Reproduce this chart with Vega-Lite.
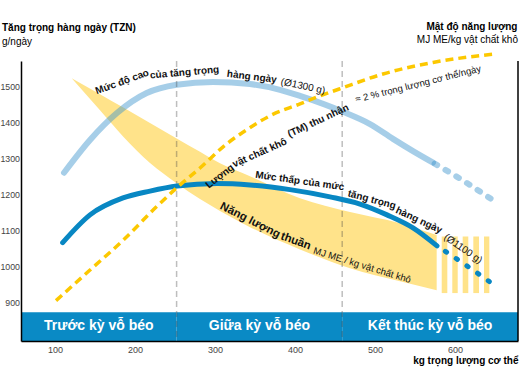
{
  "$schema": "https://vega.github.io/schema/vega-lite/v6.json",
  "width": 497,
  "height": 280,
  "autosize": {"type": "none"},
  "padding": {"left": 21, "top": 61, "right": 2, "bottom": 39},
  "background": "white",
  "config": {
    "view": {"stroke": null},
    "font": "Liberation Sans",
    "text": {"font": "Liberation Sans", "color": "#111"}
  },
  "datasets": {
    "phases": [
      {"phase": "Trước kỳ vỗ béo", "from": 57.5, "to": 252},
      {"phase": "Giữa kỳ vỗ béo", "from": 252, "to": 459},
      {"phase": "Kết thúc kỳ vỗ béo", "from": 459, "to": 678.75}
    ],
    "boundaries": [{"kg": 252}, {"kg": 459}],
    "energy": [
      {"kg": 120.9, "upper": 1523, "lower": 1523},
      {"kg": 156.25, "upper": 1479, "lower": 1434},
      {"kg": 185.4, "upper": 1442, "lower": 1361},
      {"kg": 218.75, "upper": 1399, "lower": 1288},
      {"kg": 252.1, "upper": 1356, "lower": 1232},
      {"kg": 281.25, "upper": 1319, "lower": 1188},
      {"kg": 306.25, "upper": 1287, "lower": 1155},
      {"kg": 343.75, "upper": 1251, "lower": 1110},
      {"kg": 406.25, "upper": 1190, "lower": 1048},
      {"kg": 468.75, "upper": 1152, "lower": 996},
      {"kg": 531.25, "upper": 1121, "lower": 960},
      {"kg": 577.1, "upper": 1088, "lower": 935}
    ],
    "energy_projected": [
      {"from": 583.4, "to": 590.4},
      {"from": 596.6, "to": 603.4},
      {"from": 609.6, "to": 616.6},
      {"from": 622.9, "to": 630},
      {"from": 636.25, "to": 642.9}
    ],
    "adg": [
      {"series": "high", "part": "solid", "kg": 111.25, "gain": 1261},
      {"series": "high", "part": "solid", "kg": 143.75, "gain": 1352},
      {"series": "high", "part": "solid", "kg": 177.1, "gain": 1426},
      {"series": "high", "part": "solid", "kg": 214.6, "gain": 1482},
      {"series": "high", "part": "solid", "kg": 252.1, "gain": 1505},
      {"series": "high", "part": "solid", "kg": 297.5, "gain": 1513},
      {"series": "high", "part": "solid", "kg": 343.75, "gain": 1507},
      {"series": "high", "part": "solid", "kg": 381.25, "gain": 1491},
      {"series": "high", "part": "solid", "kg": 406.25, "gain": 1474},
      {"series": "high", "part": "solid", "kg": 460, "gain": 1430},
      {"series": "high", "part": "solid", "kg": 493.75, "gain": 1396},
      {"series": "high", "part": "solid", "kg": 522.5, "gain": 1355},
      {"series": "high", "part": "solid", "kg": 547.5, "gain": 1321},
      {"series": "high", "part": "solid", "kg": 572.5, "gain": 1289},
      {"series": "high", "part": "projected", "kg": 572.5, "gain": 1289},
      {"series": "high", "part": "projected", "kg": 608.75, "gain": 1241},
      {"series": "high", "part": "projected", "kg": 644.6, "gain": 1189},
      {"series": "low", "part": "solid", "kg": 109.6, "gain": 1067},
      {"series": "low", "part": "solid", "kg": 143.75, "gain": 1144},
      {"series": "low", "part": "solid", "kg": 185, "gain": 1191},
      {"series": "low", "part": "solid", "kg": 218.75, "gain": 1210},
      {"series": "low", "part": "solid", "kg": 252.5, "gain": 1224},
      {"series": "low", "part": "solid", "kg": 302.5, "gain": 1231},
      {"series": "low", "part": "solid", "kg": 343.75, "gain": 1227},
      {"series": "low", "part": "solid", "kg": 393.75, "gain": 1214},
      {"series": "low", "part": "solid", "kg": 443.75, "gain": 1194},
      {"series": "low", "part": "solid", "kg": 481.25, "gain": 1174},
      {"series": "low", "part": "solid", "kg": 515, "gain": 1144},
      {"series": "low", "part": "solid", "kg": 547.5, "gain": 1108},
      {"series": "low", "part": "solid", "kg": 577.5, "gain": 1058},
      {"series": "low", "part": "projected", "kg": 577.5, "gain": 1058},
      {"series": "low", "part": "projected", "kg": 610, "gain": 1010},
      {"series": "low", "part": "projected", "kg": 642.9, "gain": 959}
    ],
    "dm_intake": [
      {"kg": 101.25, "value": 906},
      {"kg": 143.75, "value": 991},
      {"kg": 185.4, "value": 1074},
      {"kg": 227.1, "value": 1167},
      {"kg": 252.1, "value": 1219},
      {"kg": 281.25, "value": 1274},
      {"kg": 314.6, "value": 1341},
      {"kg": 339.6, "value": 1380},
      {"kg": 368.75, "value": 1419},
      {"kg": 406.25, "value": 1452},
      {"kg": 431.25, "value": 1474},
      {"kg": 460, "value": 1497},
      {"kg": 510, "value": 1535},
      {"kg": 572.5, "value": 1567},
      {"kg": 647.5, "value": 1590}
    ]
  },
  "layer": [
    {
      "data": {"name": "phases"},
      "mark": {"type": "rect", "color": "#0a8ac5"},
      "encoding": {
        "x": {"field": "from", "type": "quantitative", "scale": {"domain": [57.5, 678.75], "nice": false, "zero": false},
          "axis": {"values": [100, 200, 300, 400, 500, 600], "format": "d", "ticks": false, "grid": false, "domain": true, "domainColor": "#000", "domainWidth": 1.5, "zindex": 2,
            "labelFont": "Liberation Sans", "labelFontSize": 9, "labelColor": "#444", "labelPadding": 4,
            "title": "kg trọng lượng cơ thể", "titleFont": "Liberation Sans", "titleFontSize": 10, "titleFontWeight": "bold",
            "titleColor": "#000", "titleAnchor": "end", "titlePadding": 1}},
        "x2": {"field": "to"},
        "y": {"datum": 794, "type": "quantitative", "scale": {"domain": [794, 1571], "nice": false, "zero": false},
          "axis": {"values": [900, 1000, 1100, 1200, 1300, 1400, 1500], "format": "d", "ticks": false, "grid": false, "domain": true, "domainColor": "#000", "domainWidth": 1.5, "zindex": 2,
            "labelFont": "Liberation Sans", "labelFontSize": 8.8, "labelColor": "#444", "labelPadding": 1.5, "title": null}},
        "y2": {"datum": 874}
      }
    },
    {
      "data": {"name": "phases"},
      "transform": [
        {"fold": ["from", "to"], "as": ["edge", "kg"]},
        {"aggregate": [{"op": "mean", "field": "kg", "as": "kg"}], "groupby": ["phase"]}
      ],
      "mark": {"type": "text", "color": "white", "fontWeight": "bold", "fontSize": 14, "align": "center", "baseline": "middle"},
      "encoding": {
        "x": {"field": "kg", "type": "quantitative", "scale": {"domain": [57.5, 678.75], "nice": false, "zero": false}},
        "y": {"datum": 835, "type": "quantitative", "scale": {"domain": [794, 1571], "nice": false, "zero": false}},
        "text": {"field": "phase"}
      }
    },
    {
      "data": {"name": "energy"},
      "mark": {"type": "area", "color": "#ffe38a", "interpolate": "monotone"},
      "encoding": {
        "x": {"field": "kg", "type": "quantitative", "scale": {"domain": [57.5, 678.75], "nice": false, "zero": false}},
        "y": {"field": "upper", "type": "quantitative", "scale": {"domain": [794, 1571], "nice": false, "zero": false}},
        "y2": {"field": "lower"}
      }
    },
    {
      "data": {"name": "energy_projected"},
      "mark": {"type": "rect", "color": "#ffe38a"},
      "encoding": {
        "x": {"field": "from", "type": "quantitative", "scale": {"domain": [57.5, 678.75], "nice": false, "zero": false}},
        "x2": {"field": "to"},
        "y": {"datum": 1084, "type": "quantitative", "scale": {"domain": [794, 1571], "nice": false, "zero": false}},
        "y2": {"datum": 927}
      }
    },
    {
      "data": {"name": "adg"},
      "transform": [{"filter": "datum.series === 'high' && datum.part === 'solid'"}],
      "mark": {"type": "line", "color": "#3a93cb", "opacity": 0.45, "strokeWidth": 6, "strokeCap": "round", "interpolate": "monotone"},
      "encoding": {
        "x": {"field": "kg", "type": "quantitative", "scale": {"domain": [57.5, 678.75], "nice": false, "zero": false}},
        "y": {"field": "gain", "type": "quantitative", "scale": {"domain": [794, 1571], "nice": false, "zero": false}}
      }
    },
    {
      "data": {"name": "adg"},
      "transform": [{"filter": "datum.series === 'high' && datum.part === 'projected'"}],
      "mark": {"type": "line", "color": "#3a93cb", "opacity": 0.45, "strokeWidth": 6, "strokeCap": "round", "strokeDash": [3, 9.6], "strokeDashOffset": 10.7, "interpolate": "monotone"},
      "encoding": {
        "x": {"field": "kg", "type": "quantitative", "scale": {"domain": [57.5, 678.75], "nice": false, "zero": false}},
        "y": {"field": "gain", "type": "quantitative", "scale": {"domain": [794, 1571], "nice": false, "zero": false}}
      }
    },
    {
      "data": {"name": "boundaries"},
      "mark": {"type": "rule", "color": "#444", "opacity": 0.35, "strokeWidth": 1.5, "strokeDash": [6, 4]},
      "encoding": {
        "x": {"field": "kg", "type": "quantitative", "scale": {"domain": [57.5, 678.75], "nice": false, "zero": false}}
      }
    },
    {
      "data": {"values": [{}]},
      "mark": {"type": "rule", "color": "#000", "strokeWidth": 1.5},
      "encoding": {
        "x": {"datum": 678.75, "type": "quantitative", "scale": {"domain": [57.5, 678.75], "nice": false, "zero": false}}
      }
    },
    {
      "data": {"name": "adg"},
      "transform": [{"filter": "datum.series === 'low' && datum.part === 'solid'"}],
      "mark": {"type": "line", "color": "#0887c3", "strokeWidth": 5, "strokeCap": "round", "interpolate": "monotone"},
      "encoding": {
        "x": {"field": "kg", "type": "quantitative", "scale": {"domain": [57.5, 678.75], "nice": false, "zero": false}},
        "y": {"field": "gain", "type": "quantitative", "scale": {"domain": [794, 1571], "nice": false, "zero": false}}
      }
    },
    {
      "data": {"name": "adg"},
      "transform": [{"filter": "datum.series === 'low' && datum.part === 'projected'"}],
      "mark": {"type": "line", "color": "#0887c3", "strokeWidth": 5, "strokeCap": "round", "strokeDash": [1.5, 11.5], "strokeDashOffset": 3, "interpolate": "monotone"},
      "encoding": {
        "x": {"field": "kg", "type": "quantitative", "scale": {"domain": [57.5, 678.75], "nice": false, "zero": false}},
        "y": {"field": "gain", "type": "quantitative", "scale": {"domain": [794, 1571], "nice": false, "zero": false}}
      }
    },
    {
      "data": {"name": "dm_intake"},
      "mark": {"type": "line", "color": "#fcc800", "strokeWidth": 3.5, "strokeDash": [8, 5], "interpolate": "monotone"},
      "encoding": {
        "x": {"field": "kg", "type": "quantitative", "scale": {"domain": [57.5, 678.75], "nice": false, "zero": false}},
        "y": {"field": "value", "type": "quantitative", "scale": {"domain": [794, 1571], "nice": false, "zero": false}}
      }
    },
    {"data": {"values": [{}]}, "mark": {"type": "text", "angle": -20, "fontWeight": "bold", "fontSize": 10},
      "encoding": {"x": {"datum": 184, "type": "quantitative", "scale": {"domain": [57.5, 678.75], "nice": false, "zero": false}},
        "y": {"datum": 1513, "type": "quantitative", "scale": {"domain": [794, 1571], "nice": false, "zero": false}},
        "text": {"value": "Mức độ cao"}}},
    {"data": {"values": [{}]}, "mark": {"type": "text", "angle": -5, "fontWeight": "bold", "fontSize": 10},
      "encoding": {"x": {"datum": 262, "type": "quantitative", "scale": {"domain": [57.5, 678.75], "nice": false, "zero": false}},
        "y": {"datum": 1539, "type": "quantitative", "scale": {"domain": [794, 1571], "nice": false, "zero": false}},
        "text": {"value": "của tăng trọng"}}},
    {"data": {"values": [{}]}, "mark": {"type": "text", "angle": 7, "fontWeight": "bold", "fontSize": 10},
      "encoding": {"x": {"datum": 346, "type": "quantitative", "scale": {"domain": [57.5, 678.75], "nice": false, "zero": false}},
        "y": {"datum": 1527, "type": "quantitative", "scale": {"domain": [794, 1571], "nice": false, "zero": false}},
        "text": {"value": "hàng ngày"}}},
    {"data": {"values": [{}]}, "mark": {"type": "text", "angle": 12, "fontSize": 10},
      "encoding": {"x": {"datum": 410, "type": "quantitative", "scale": {"domain": [57.5, 678.75], "nice": false, "zero": false}},
        "y": {"datum": 1501, "type": "quantitative", "scale": {"domain": [794, 1571], "nice": false, "zero": false}},
        "text": {"value": "(Ø1300 g)"}}},
    {"data": {"values": [{}]}, "mark": {"type": "text", "angle": -38, "fontWeight": "bold", "fontSize": 10},
      "encoding": {"x": {"datum": 306, "type": "quantitative", "scale": {"domain": [57.5, 678.75], "nice": false, "zero": false}},
        "y": {"datum": 1251, "type": "quantitative", "scale": {"domain": [794, 1571], "nice": false, "zero": false}},
        "text": {"value": "Lượng"}}},
    {"data": {"values": [{}]}, "mark": {"type": "text", "angle": -24, "fontWeight": "bold", "fontSize": 10},
      "encoding": {"x": {"datum": 356, "type": "quantitative", "scale": {"domain": [57.5, 678.75], "nice": false, "zero": false}},
        "y": {"datum": 1316, "type": "quantitative", "scale": {"domain": [794, 1571], "nice": false, "zero": false}},
        "text": {"value": "vật chất khô"}}},
    {"data": {"values": [{}]}, "mark": {"type": "text", "angle": -25, "fontWeight": "bold", "fontSize": 10},
      "encoding": {"x": {"datum": 429, "type": "quantitative", "scale": {"domain": [57.5, 678.75], "nice": false, "zero": false}},
        "y": {"datum": 1405, "type": "quantitative", "scale": {"domain": [794, 1571], "nice": false, "zero": false}},
        "text": {"value": "(TM) thu nhận"}}},
    {"data": {"values": [{}]}, "mark": {"type": "text", "angle": -14, "fontSize": 9.5},
      "encoding": {"x": {"datum": 554, "type": "quantitative", "scale": {"domain": [57.5, 678.75], "nice": false, "zero": false}},
        "y": {"datum": 1507, "type": "quantitative", "scale": {"domain": [794, 1571], "nice": false, "zero": false}},
        "text": {"value": "≈ 2 % trọng lượng cơ thể/ngày"}}},
    {"data": {"values": [{}]}, "mark": {"type": "text", "angle": 8, "fontWeight": "bold", "fontSize": 10},
      "encoding": {"x": {"datum": 406, "type": "quantitative", "scale": {"domain": [57.5, 678.75], "nice": false, "zero": false}},
        "y": {"datum": 1238, "type": "quantitative", "scale": {"domain": [794, 1571], "nice": false, "zero": false}},
        "text": {"value": "Mức thấp của mức"}}},
    {"data": {"values": [{}]}, "mark": {"type": "text", "angle": 15, "fontWeight": "bold", "fontSize": 10},
      "encoding": {"x": {"datum": 496, "type": "quantitative", "scale": {"domain": [57.5, 678.75], "nice": false, "zero": false}},
        "y": {"datum": 1186, "type": "quantitative", "scale": {"domain": [794, 1571], "nice": false, "zero": false}},
        "text": {"value": "tăng trọng"}}},
    {"data": {"values": [{}]}, "mark": {"type": "text", "angle": 25, "fontWeight": "bold", "fontSize": 10},
      "encoding": {"x": {"datum": 555, "type": "quantitative", "scale": {"domain": [57.5, 678.75], "nice": false, "zero": false}},
        "y": {"datum": 1129, "type": "quantitative", "scale": {"domain": [794, 1571], "nice": false, "zero": false}},
        "text": {"value": "hàng ngày"}}},
    {"data": {"values": [{}]}, "mark": {"type": "text", "angle": 35, "fontSize": 10},
      "encoding": {"x": {"datum": 610, "type": "quantitative", "scale": {"domain": [57.5, 678.75], "nice": false, "zero": false}},
        "y": {"datum": 1050, "type": "quantitative", "scale": {"domain": [794, 1571], "nice": false, "zero": false}},
        "text": {"value": "(Ø1100 g)"}}},
    {"data": {"values": [{}]}, "mark": {"type": "text", "angle": 27, "fontWeight": "bold", "fontSize": 11.5},
      "encoding": {"x": {"datum": 343.75, "type": "quantitative", "scale": {"domain": [57.5, 678.75], "nice": false, "zero": false}},
        "y": {"datum": 1128, "type": "quantitative", "scale": {"domain": [794, 1571], "nice": false, "zero": false}},
        "text": {"value": "Năng lượng"}}},
    {"data": {"values": [{}]}, "mark": {"type": "text", "angle": 20, "fontWeight": "bold", "fontSize": 11.5},
      "encoding": {"x": {"datum": 401, "type": "quantitative", "scale": {"domain": [57.5, 678.75], "nice": false, "zero": false}},
        "y": {"datum": 1070, "type": "quantitative", "scale": {"domain": [794, 1571], "nice": false, "zero": false}},
        "text": {"value": "thuần"}}},
    {"data": {"values": [{}]}, "mark": {"type": "text", "angle": 17, "fontSize": 9.5},
      "encoding": {"x": {"datum": 484, "type": "quantitative", "scale": {"domain": [57.5, 678.75], "nice": false, "zero": false}},
        "y": {"datum": 1004, "type": "quantitative", "scale": {"domain": [794, 1571], "nice": false, "zero": false}},
        "text": {"value": "MJ ME / kg vật chất khô"}}},
    {"data": {"values": [{}]}, "mark": {"type": "text", "align": "left", "fontWeight": "bold", "fontSize": 10, "color": "#000"},
      "encoding": {"x": {"datum": 33.75, "type": "quantitative", "scale": {"domain": [57.5, 678.75], "nice": false, "zero": false}},
        "y": {"datum": 1662, "type": "quantitative", "scale": {"domain": [794, 1571], "nice": false, "zero": false}},
        "text": {"value": "Tăng trọng hàng ngày (TZN)"}}},
    {"data": {"values": [{}]}, "mark": {"type": "text", "align": "left", "fontSize": 10, "color": "#000"},
      "encoding": {"x": {"datum": 33.75, "type": "quantitative", "scale": {"domain": [57.5, 678.75], "nice": false, "zero": false}},
        "y": {"datum": 1625, "type": "quantitative", "scale": {"domain": [794, 1571], "nice": false, "zero": false}},
        "text": {"value": "g/ngày"}}},
    {"data": {"values": [{}]}, "mark": {"type": "text", "align": "right", "fontWeight": "bold", "fontSize": 10, "color": "#000"},
      "encoding": {"x": {"datum": 678.1, "type": "quantitative", "scale": {"domain": [57.5, 678.75], "nice": false, "zero": false}},
        "y": {"datum": 1665, "type": "quantitative", "scale": {"domain": [794, 1571], "nice": false, "zero": false}},
        "text": {"value": "Mật độ năng lượng"}}},
    {"data": {"values": [{}]}, "mark": {"type": "text", "align": "right", "fontSize": 10, "color": "#000"},
      "encoding": {"x": {"datum": 678.75, "type": "quantitative", "scale": {"domain": [57.5, 678.75], "nice": false, "zero": false}},
        "y": {"datum": 1629, "type": "quantitative", "scale": {"domain": [794, 1571], "nice": false, "zero": false}},
        "text": {"value": "MJ ME/kg vật chất khô"}}}
  ]
}
